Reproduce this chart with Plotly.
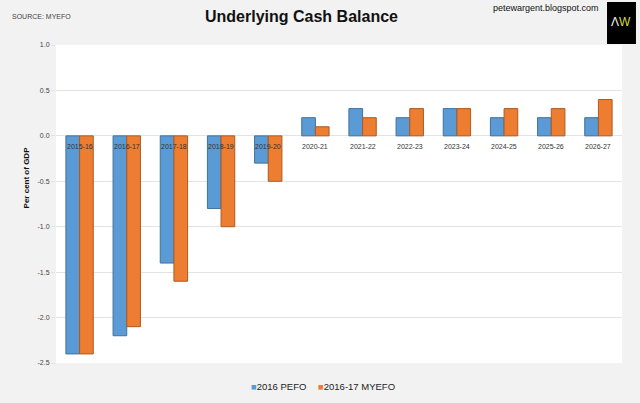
import plotly.graph_objects as go

# %%
years = ["2015-16", "2016-17", "2017-18", "2018-19", "2019-20", "2020-21",
         "2021-22", "2022-23", "2023-24", "2024-25", "2025-26", "2026-27"]
pefo = [-2.4, -2.2, -1.4, -0.8, -0.3, 0.2, 0.3, 0.2, 0.3, 0.2, 0.2, 0.2]
myefo = [-2.4, -2.1, -1.6, -1.0, -0.5, 0.1, 0.2, 0.3, 0.3, 0.3, 0.3, 0.4]
yticks = [1.0, 0.5, 0.0, -0.5, -1.0, -1.5, -2.0, -2.5]

colors = dict(blue="#5B9BD5", blue_edge="#41719C",
              orange="#ED7D31", orange_edge="#AE5A21",
              bg="#F2F2F2", grid="#E3E3E3")
FONT = "Liberation Sans, Arial"

# %%
fig = go.Figure()
fig.add_trace(go.Bar(x=years, y=pefo, name="2016 PEFO",
                     marker=dict(color=colors['blue'],
                                 line=dict(color=colors['blue_edge'], width=1))))
fig.add_trace(go.Bar(x=years, y=myefo, name="2016-17 MYEFO",
                     marker=dict(color=colors['orange'],
                                 line=dict(color=colors['orange_edge'], width=1))))

# category labels sit on the zero line
for yr in years:
    fig.add_annotation(x=yr, y=0, text=yr, showarrow=False, yanchor="top",
                       yshift=-5, font=dict(family=FONT, size=7, color="#333333"))

# hand-made legend, like the excel one
for tr, lx in zip(fig.data, [0.341, 0.459]):
    fig.add_annotation(x=lx, y=-0.075, xref="paper", yref="paper",
                       text=f"<span style='color:{tr.marker.color}'>■</span>{tr.name}",
                       showarrow=False, xanchor="left", yanchor="middle",
                       font=dict(family=FONT, size=9.5, color="#222222"))

fig.add_annotation(x=0.433, y=1.091, xref="paper", yref="paper",
                   text="<b>Underlying Cash Balance</b>", showarrow=False,
                   yanchor="middle",
                   font=dict(family=FONT, size=16, color="#111111"))
fig.add_annotation(x=-0.081, y=1.091, xref="paper", yref="paper",
                   text="SOURCE: MYEFO", showarrow=False, xanchor="left",
                   yanchor="middle", font=dict(family=FONT, size=7, color="#444444"))
fig.add_annotation(x=0.963, y=1.116, xref="paper", yref="paper",
                   text="petewargent.blogspot.com", showarrow=False,
                   xanchor="right", yanchor="middle",
                   font=dict(family=FONT, size=9, color="#111111"))
fig.add_shape(type="rect", xref="paper", yref="paper",
              x0=0.9735, x1=1.0247, y0=1.003, y1=1.135,
              fillcolor="black", line=dict(width=0), layer="below")
fig.add_annotation(x=0.999, y=1.072, xref="paper", yref="paper",
                   text="<span style='color:#F0F0F0'>Λ</span><span style='color:#D8DC3A'>W</span>",
                   showarrow=False, xanchor="center", yanchor="middle",
                   font=dict(family=FONT, size=12))
fig.add_annotation(x=-0.0636, y=0.582, xref="paper", yref="paper",
                   text="<b>Per cent of GDP</b>", showarrow=False, textangle=-90,
                   font=dict(family=FONT, size=8, color="#111111"))

fig.update_layout(
    width=640, height=403,
    margin=dict(l=56, r=18, t=45, b=40, autoexpand=False),
    paper_bgcolor=colors['bg'],
    plot_bgcolor='white',
    barmode='group',
    bargap=0.42,
    bargroupgap=0.0,
    showlegend=False,
)
fig.update_xaxes(showticklabels=False, showgrid=False, zeroline=False,
                 showline=False, ticks="")
fig.update_yaxes(range=[-2.5, 1.0], tickvals=yticks,
                 ticktext=[f"{v:.1f}" for v in yticks],
                 showgrid=True, gridcolor=colors['grid'], gridwidth=1,
                 zeroline=True, zerolinecolor=colors['grid'], zerolinewidth=1,
                 ticks="outside", ticklen=4, tickcolor=colors['grid'],
                 tickfont=dict(family=FONT, size=7, color="#444444"),
                 showline=False)

# body margin would push the fixed-size figure off the window
fig.write_html("out.html", config={"displayModeBar": False},
               post_script="document.body.style.margin='0';")
